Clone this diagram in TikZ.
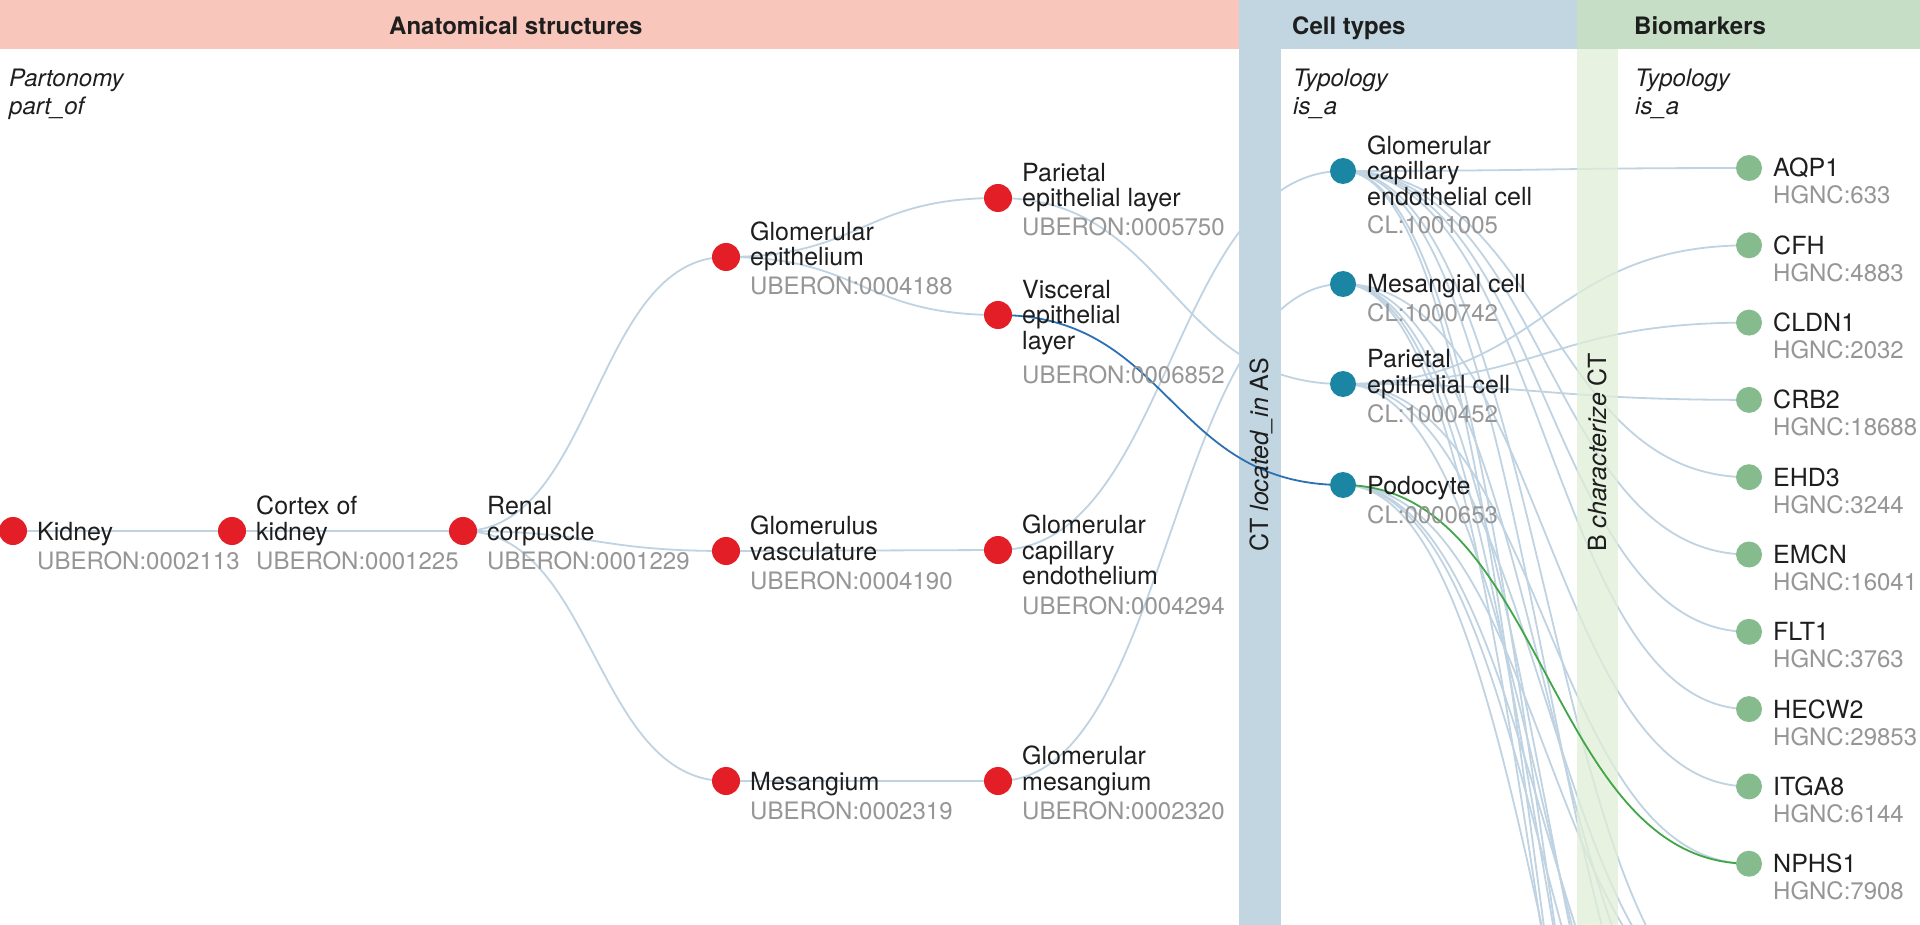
\documentclass[tikz,border=0pt]{standalone}
\usepackage{fontspec}
\setmainfont{TeX Gyre Heros}
\usetikzlibrary{calc}

\definecolor{asred}{RGB}{228,30,38}
\definecolor{ctteal}{RGB}{26,134,164}
\definecolor{bmgreen}{RGB}{134,187,142}
\definecolor{edgecol}{RGB}{192,211,226}
\definecolor{hiblue}{RGB}{44,112,178}
\definecolor{higreen}{RGB}{64,166,72}
\definecolor{aspink}{RGB}{248,198,186}
\definecolor{ctband}{RGB}{194,214,226}
\definecolor{bmband}{RGB}{198,222,197}
\definecolor{bmstrip}{RGB}{224,238,216}
\definecolor{idgray}{RGB}{150,150,150}
\definecolor{txt}{RGB}{30,30,30}

\pgfdeclarelayer{bg}
\pgfdeclarelayer{edges}
\pgfdeclarelayer{strips}
\pgfdeclarelayer{hilite}
\pgfsetlayers{bg,edges,strips,hilite,main}

\tikzset{
  link/.style={draw=edgecol, line width=1.8pt,
    to path={let \p1=(\tikztostart), \p2=(\tikztotarget) in
      .. controls ({(\x1+\x2)/2},\y1) and ({(\x1+\x2)/2},\y2) .. (\tikztotarget)}},
  asn/.style={circle, fill=asred, minimum size=28pt, inner sep=0pt},
  ctn/.style={circle, fill=ctteal, minimum size=26pt, inner sep=0pt},
  bmn/.style={circle, fill=bmgreen, minimum size=26pt, inner sep=0pt},
  lab/.style={anchor=base west, align=left, inner sep=0pt, text=txt,
    font=\fontsize{25}{25.5}\selectfont},
  uid/.style={anchor=base west, inner sep=0pt, text=idgray,
    font=\fontsize{24}{26}\selectfont},
  head/.style={anchor=base west, inner sep=0pt, text=txt,
    font=\fontsize{24}{28}\selectfont\bfseries},
  note/.style={anchor=base west, align=left, inner sep=0pt, text=txt,
    font=\fontsize{24}{28}\selectfont\itshape},
  vert/.style={rotate=90, anchor=base west, inner sep=0pt, text=txt,
    font=\fontsize{25}{28}\selectfont},
}

\begin{document}
\begin{tikzpicture}[x=1pt,y=-1pt]
\useasboundingbox (0,0) rectangle (1920,925);
\begin{pgfonlayer}{bg}
  \fill[white] (0,0) rectangle (1920,925);
\end{pgfonlayer}

% Bandas de cabecera y columnas
\begin{pgfonlayer}{strips}
  \fill[aspink] (0,0) rectangle (1239,49);
  \fill[ctband] (1239,0) rectangle (1577,49);
  \fill[bmband] (1577,0) rectangle (1920,49);
  \fill[bmstrip, fill opacity=0.75] (1577,49) rectangle (1618,925);
  \fill[ctband] (1239,49) rectangle (1281,925);
\end{pgfonlayer}

\node[head] (hAS) at (389,35) {Anatomical structures};
\node[head] (hCT) at (1292,35) {Cell types};
\node[head] (hB) at (1634,35) {Biomarkers};
\node[note] (part) at (9,115) {Partonomy\\part\_of};
\node[note] (typct) at (1293,115) {Typology\\is\_a};
\node[note] (typb) at (1635,115) {Typology\\is\_a};
\node[vert] (ctas) at (1268,552) {CT \textit{located\_in} AS};
\node[vert] (bct) at (1606,552) {B \textit{characterize} CT};

% Estructuras anatomicas
\node[asn] (kid) at (13,531) {};
\node[asn] (ctx) at (232,531) {};
\node[asn] (ren) at (463,531) {};
\node[asn] (gep) at (726,257) {};
\node[asn] (gva) at (726,551) {};
\node[asn] (mes) at (726,781) {};
\node[asn] (pel) at (998,198) {};
\node[asn] (vel) at (998,315) {};
\node[asn] (gce) at (998,550) {};
\node[asn] (gme) at (998,781) {};

% (base = ultima linea)
\node[lab] (kidl) at (37,540) {Kidney};
\node[uid] (kidi) at (37,569) {UBERON:0002113};
\node[lab] (ctxl) at (256,540) {Cortex of\\kidney};
\node[uid] (ctxi) at (256,569) {UBERON:0001225};
\node[lab] (renl) at (487,540) {Renal\\corpuscle};
\node[uid] (reni) at (487,569) {UBERON:0001229};
\node[lab] (gepl) at (750,266) {Glomerular\\epithelium};
\node[uid] (gepi) at (750,295) {UBERON:0004188};
\node[lab] (gval) at (750,560) {Glomerulus\\vasculature};
\node[uid] (gvai) at (750,589) {UBERON:0004190};
\node[lab] (mesl) at (750,790) {Mesangium};
\node[uid] (mesi) at (750,819) {UBERON:0002319};
\node[lab] (pell) at (1022,207) {Parietal\\epithelial layer};
\node[uid] (peli) at (1022,236) {UBERON:0005750};
\node[lab] (vell) at (1022,349.5) {Visceral\\epithelial\\layer};
\node[uid] (veli) at (1022,383) {UBERON:0006852};
\node[lab] (gcel) at (1022,584.5) {Glomerular\\capillary\\endothelium};
\node[uid] (gcei) at (1022,614) {UBERON:0004294};
\node[lab] (gmel) at (1022,790) {Glomerular\\mesangium};
\node[uid] (gmei) at (1022,819) {UBERON:0002320};

% Tipos celulares
\node[ctn] (gcec) at (1343,171) {};
\node[ctn] (mce) at (1343,284) {};
\node[ctn] (pec) at (1343,384) {};
\node[ctn] (pod) at (1343,485) {};

\node[lab] (gcecl) at (1367,205.5) {Glomerular\\capillary\\endothelial cell};
\node[uid] (gceci) at (1367,234) {CL:1001005};
\node[lab] (mcel) at (1367,293) {Mesangial cell};
\node[uid] (mcei) at (1367,322) {CL:1000742};
\node[lab] (pecl) at (1367,393) {Parietal\\epithelial cell};
\node[uid] (peci) at (1367,422) {CL:1000452};
\node[lab] (podl) at (1367,494) {Podocyte};
\node[uid] (podi) at (1367,523) {CL:0000653};

% Biomarcadores
\foreach \g/\h [count=\i from 0] in {AQP1/633, CFH/4883, CLDN1/2032, CRB2/18688,
    EHD3/3244, EMCN/16041, FLT1/3763, HECW2/29853, ITGA8/6144, NPHS1/7908} {
  \node[bmn] (b\i) at (1749,{168+77.3*\i}) {};
  \node[lab] (b\i l) at (1773,{177+77.3*\i}) {\g};
  \node[uid] (b\i i) at (1773,{204+77.3*\i}) {HGNC:\h};
}
% biomarcadores fuera del cuadro
\foreach \i in {10,...,20}
  \coordinate (b\i) at (1749,{168+77.3*\i});

% Enlaces
\begin{pgfonlayer}{edges}
  \foreach \s/\t in {kid/ctx, ctx/ren, ren/gep, ren/gva, ren/mes,
      gep/pel, gep/vel, gva/gce, mes/gme,
      pel/pec, gce/gcec, gme/mce,
      gcec/b0, gcec/b4, gcec/b5, gcec/b6, gcec/b7, gcec/b11, gcec/b13, gcec/b18, gcec/b20,
      mce/b8, mce/b12, mce/b15, mce/b17, mce/b19,
      pec/b1, pec/b2, pec/b3, pec/b9, pec/b11, pec/b14,
      pod/b11, pod/b13, pod/b14, pod/b16}
    \draw[link] (\s.center) to (\t.center);
\end{pgfonlayer}
\begin{pgfonlayer}{hilite}
  \draw[link, hiblue] (vel.center) to (pod.center);
  \draw[link, higreen] (pod.center) to (b9.center);
\end{pgfonlayer}
\end{tikzpicture}
\end{document}
